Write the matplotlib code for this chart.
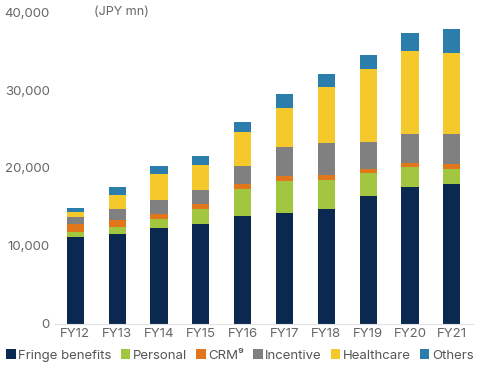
import matplotlib
matplotlib.use("Agg")
import matplotlib.pyplot as plt
import numpy as np

plt.rcParams['font.family'] = ['Inter', 'DejaVu Sans']

years = ["FY12", "FY13", "FY14", "FY15", "FY16", "FY17", "FY18", "FY19", "FY20", "FY21"]
fringe = [11190, 11500, 12270, 12860, 13800, 14230, 14780, 16370, 17600, 17910]
personal = [600, 900, 1190, 1840, 3510, 4150, 3640, 2990, 2570, 2000]
crm = [990, 890, 640, 650, 600, 590, 640, 550, 510, 560]
incentive = [900, 1410, 1760, 1870, 2390, 3760, 4180, 3380, 3640, 3850]
healthcare = [720, 1800, 3370, 3130, 4280, 5000, 7180, 9440, 10640, 10380]
others = [510, 1020, 1070, 1230, 1360, 1720, 1630, 1720, 2310, 3120]

series = [
    ("Fringe benefits", fringe, "#0a2850"),
    ("Personal", personal, "#a2c63f"),
    ("CRM\u2079", crm, "#e2761a"),
    ("Incentive", incentive, "#808080"),
    ("Healthcare", healthcare, "#f5c82c"),
    ("Others", others, "#2b7eab"),
]

fig = plt.figure(figsize=(4.8, 3.68), dpi=100)
ax = fig.add_axes([0.115, 0.12, 0.87, 0.847])

x = np.arange(len(years))
bottom = np.zeros(len(years))
handles = []
for name, vals, color in series:
    b = ax.bar(x, vals, width=0.41, bottom=bottom, color=color, label=name, linewidth=0)
    bottom += np.array(vals)
    handles.append(b)

ax.set_ylim(0, 40000)
ax.set_xlim(-0.48, 9.5)
ax.set_yticks([0, 10000, 20000, 30000, 40000])
ax.set_yticklabels(["0", "10,000", "20,000", "30,000", "40,000"])
ax.set_xticks(x)
ax.set_xticklabels(years)
ax.tick_params(axis='both', length=0, labelsize=9.5, colors="#666666", pad=3)
ax.tick_params(axis='y', pad=4)
for s in ["top", "right", "left"]:
    ax.spines[s].set_visible(False)
ax.spines["bottom"].set_color("#e0e0e0")
ax.spines["bottom"].set_linewidth(0.8)

fig.text(0.195, 0.967, "(JPY mn)", fontsize=9, color="#666666", va="center", ha="left")

leg = fig.legend(handles=handles, labels=[s[0] for s in series], loc="lower center",
                 bbox_to_anchor=(0.5, -0.015), ncol=6, frameon=False, fontsize=9.5,
                 handlelength=0.7, handleheight=0.7, handletextpad=0.2, columnspacing=0.7,
                 labelcolor="#555555")

fig.savefig("out.png", dpi=100)
